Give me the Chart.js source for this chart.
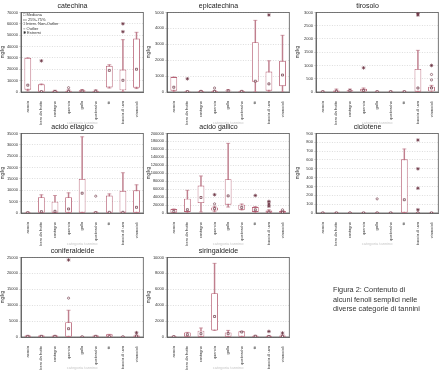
<!DOCTYPE html>
<html>
<head>
<meta charset="utf-8">
<script src="https://cdn.jsdelivr.net/npm/chart.js@4.4.1/dist/chart.umd.min.js"></script>
<style>
  body { margin: 0; background: #fff; width: 446px; height: 372px; position: relative; overflow: hidden;
         font-family: "Liberation Sans", Arial, sans-serif; }
  canvas { position: absolute; }
  .legend { position: absolute; left: 23px; top: 13px; font-size: 4px; line-height: 4.5px; color: #333; will-change: transform; }
  .caption { position: absolute; left: 333px; top: 285px; font-size: 7.3px; line-height: 9.5px; color: #333; will-change: transform; }
</style>
</head>
<body>
<canvas id="c0" width="148" height="125" style="left:0;top:0"></canvas>
<canvas id="c1" width="148" height="125" style="left:146px;top:0"></canvas>
<canvas id="c2" width="148" height="125" style="left:295px;top:0"></canvas>
<canvas id="c3" width="148" height="125" style="left:0;top:121px"></canvas>
<canvas id="c4" width="148" height="125" style="left:146px;top:121px"></canvas>
<canvas id="c5" width="148" height="125" style="left:295px;top:121px"></canvas>
<canvas id="c6" width="148" height="125" style="left:0;top:245px"></canvas>
<canvas id="c7" width="148" height="125" style="left:146px;top:245px"></canvas>

<div class="legend">
  <div>□ Mediana</div>
  <div>▭ 25%-75%</div>
  <div>⌶ Interv. Non-Outlier</div>
  <div>○ Outlier</div>
  <div>✱ Estremi</div>
</div>
<div class="caption">Figura 2: Contenuto di<br>alcuni fenoli semplici nelle<br>diverse categorie di tannini</div>

<script>
const categories = ['acacia', 'albero da frutto', 'castagno', 'quercia', 'galla', 'quebracho', 'tè', 'buccia di uva', 'vinaccioli'];
const compounds = ['catechina', 'epicatechina', 'tirosolo', 'acido ellagico', 'acido gallico', 'ciclotene', 'coniferaldeide', 'siringaldeide'];
const yMax = [70000, 5000, 3000, 35000, 200000, 900, 25000, 10000];
const yStep = [10000, 1000, 500, 5000, 20000, 100, 5000, 2000];

// [min, q1, mediana, q3, max] per categoria
const catechinaBox = [
  [1000, 2000, 6000, 30000, 30000], [0, 0, 300, 6800, 7000], [0, 200, 500, 1000, 1500],
  [0, 200, 600, 1200, 1800], [0, 300, 800, 1500, 2200], [0, 300, 700, 1200, 1800],
  [3500, 4000, 19000, 23000, 24000], [0, 1500, 10300, 19800, 46000], [3000, 3800, 20000, 47000, 52500]
];
const catechinaOut = [[3, 3800]];
const catechinaExt = [[1, 27400], [7, 53000], [7, 60000]];

const epicatechinaBox = [
  [0, 85, 300, 940, 940], [0, 0, 20, 40, 60], [0, 20, 40, 60, 90],
  [0, 20, 40, 70, 100], [0, 40, 70, 100, 150], [0, 20, 40, 60, 80],
  [0, 640, 680, 3130, 4500], [0, 85, 510, 1280, 1960], [0, 360, 1065, 1960, 3560]
];
const epicatechinaOut = [[3, 250]];
const epicatechinaExt = [[1, 830], [7, 4840]];

const tirosoloBox = [
  [0, 0, 10, 20, 30], [0, 10, 30, 60, 110], [0, 20, 50, 70, 110],
  [0, 20, 60, 120, 150], [0, 0, 10, 20, 30], [0, 0, 10, 20, 30],
  [0, 0, 10, 20, 30], [0, 0, 150, 870, 1570], [0, 25, 150, 200, 250]
];
const tirosoloOut = [[8, 660], [8, 455]];
const tirosoloExt = [[3, 910], [7, 2900], [7, 2960], [8, 1000]];

const ellagicoBox = [
  [0, 0, 100, 300, 400], [0, 0, 590, 6940, 8000], [0, 0, 740, 5000, 7700],
  [0, 0, 1770, 6940, 8860], [0, 0, 8700, 15000, 33500], [0, 0, 100, 300, 500],
  [0, 0, 300, 7700, 8400], [0, 0, 300, 9750, 17700], [0, 0, 2500, 10000, 12400]
];
const ellagicoOut = [[5, 7400]];
const ellagicoExt = [];

const gallicoBox = [
  [0, 0, 4000, 10000, 10000], [0, 2500, 8300, 36000, 57000], [2500, 25000, 39000, 69000, 93000],
  [3000, 6000, 11000, 14000, 17000], [15000, 21000, 43000, 85000, 175000], [8000, 8000, 14000, 21000, 22500],
  [0, 2500, 8000, 15000, 16000], [0, 0, 2000, 6000, 8000], [0, 0, 2000, 5000, 6000]
];
const gallicoOut = [[3, 23000], [8, 8000]];
const gallicoExt = [[3, 46000], [6, 44000], [7, 29000], [7, 22500], [7, 17000]];

const cicloteneBox = [
  [0, 0, 1, 3, 5], [0, 0, 1, 3, 5], [0, 0, 1, 3, 5],
  [0, 0, 1, 3, 5], [0, 0, 1, 3, 5], [0, 0, 1, 3, 5],
  [0, 0, 150, 608, 724], [0, 0, 1, 3, 5], [0, 0, 1, 3, 5]
];
const cicloteneOut = [[4, 160]];
const cicloteneExt = [[7, 825], [7, 500], [7, 280], [7, 37]];

const coniferaldeideBox = [
  [0, 0, 200, 500, 500], [0, 0, 200, 500, 500], [0, 0, 200, 500, 500],
  [0, 100, 2600, 4670, 8400], [0, 0, 50, 100, 150], [0, 0, 200, 500, 500],
  [0, 0, 100, 830, 830], [0, 0, 50, 100, 150], [0, 100, 300, 500, 600]
];
const coniferaldeideOut = [[3, 12200]];
const coniferaldeideExt = [[3, 24200], [8, 1350]];

const siringaldeideBox = [
  [0, 0, 40, 80, 100], [0, 0, 290, 580, 580], [0, 0, 420, 790, 1130],
  [830, 830, 2580, 5500, 9250], [0, 0, 420, 580, 830], [0, 0, 625, 710, 710],
  [0, 0, 100, 170, 200], [0, 0, 50, 150, 200], [0, 0, 80, 200, 250]
];
const siringaldeideOut = [];
const siringaldeideExt = [[7, 700], [8, 500]];

const boxes = [catechinaBox, epicatechinaBox, tirosoloBox, ellagicoBox, gallicoBox, cicloteneBox, coniferaldeideBox, siringaldeideBox];
const outs = [catechinaOut, epicatechinaOut, tirosoloOut, ellagicoOut, gallicoOut, cicloteneOut, coniferaldeideOut, siringaldeideOut];
const exts = [catechinaExt, epicatechinaExt, tirosoloExt, ellagicoExt, gallicoExt, cicloteneExt, coniferaldeideExt, siringaldeideExt];

const BOX = '#b86478';
const WHISK = '#c07f8e';
const DARK = '#6a3040';

// cornice del pannello
const frame = {
  id: 'frame',
  beforeDatasetsDraw(chart) {
    const a = chart.chartArea, ctx = chart.ctx;
    ctx.save();
    ctx.strokeStyle = '#555';
    ctx.lineWidth = 0.8;
    ctx.strokeRect(a.left, a.top, a.right - a.left, a.bottom - a.top);
    ctx.restore();
  }
};

function pts(list) {
  return list.map(o => ({ x: categories[o[0]], y: o[1] }));
}

compounds.forEach((name, k) => {
  const box = boxes[k];
  new Chart(document.getElementById('c' + k), {
    type: 'bar',
    data: {
      labels: categories,
      datasets: [
        { type: 'bar', data: box.map(b => [b[0], b[4]]), backgroundColor: WHISK, barThickness: 0.8,
          grouped: false, order: 4 },
        { type: 'line', data: box.flatMap((b, i) => [{ x: categories[i], y: b[0] }, { x: categories[i], y: b[4] }]),
          showLine: false, pointStyle: 'line', pointRadius: 2, pointBorderColor: WHISK, pointBorderWidth: 0.7, order: 3 },
        { type: 'bar', data: box.map(b => [b[1], b[3]]), backgroundColor: '#fff', borderColor: BOX, borderWidth: 0.9,
          borderSkipped: false, barPercentage: 0.5, categoryPercentage: 1, grouped: false, order: 2 },
        { type: 'line', data: box.map((b, i) => ({ x: categories[i], y: b[2] })), showLine: false,
          pointStyle: 'rect', pointRadius: 1.4, pointBorderColor: DARK, pointBackgroundColor: '#fff', pointBorderWidth: 0.7, order: 1 },
        { type: 'line', data: pts(outs[k]), showLine: false, pointStyle: 'circle', pointRadius: 1.1,
          pointBorderColor: DARK, pointBackgroundColor: '#fff', pointBorderWidth: 0.6, order: 0 },
        { type: 'line', data: pts(exts[k]), showLine: false, pointStyle: 'star', pointRadius: 1.8,
          pointBorderColor: DARK, pointBorderWidth: 0.7, order: 0 }
      ]
    },
    options: {
      responsive: false,
      animation: false,
      events: [],
      layout: { padding: { right: 3 } },
      plugins: {
        legend: { display: false },
        tooltip: { enabled: false },
        title: { display: true, text: name, color: '#222', font: { size: 7, weight: 'normal', family: 'Liberation Sans' }, padding: { top: 2, bottom: 2 } }
      },
      scales: {
        x: {
          grid: { display: false },
          border: { color: '#555', width: 0.8 },
          ticks: { font: { size: 4, family: 'Liberation Sans' }, color: '#333', minRotation: 90, maxRotation: 90, autoSkip: false, padding: 1 },
          title: { display: true, text: 'categoria tannino', color: '#c8c8c8', font: { size: 4 }, padding: 0 },
          afterFit: s => { s.height = 33; }
        },
        y: {
          min: 0, max: yMax[k],
          ticks: { stepSize: yStep[k], callback: v => String(v), font: { size: 4, family: 'Liberation Sans' }, color: '#333', padding: 1 },
          grid: { color: '#bbb', lineWidth: 0.5, tickLength: 2 },
          border: { color: '#555', width: 0.8, dash: [1, 1.5] },
          title: { display: true, text: 'mg/kg', color: '#333', font: { size: 4.5 }, padding: 0 },
          afterFit: s => { s.width = 21; }
        }
      }
    },
    plugins: [frame]
  });
});
</script>
</body>
</html>
